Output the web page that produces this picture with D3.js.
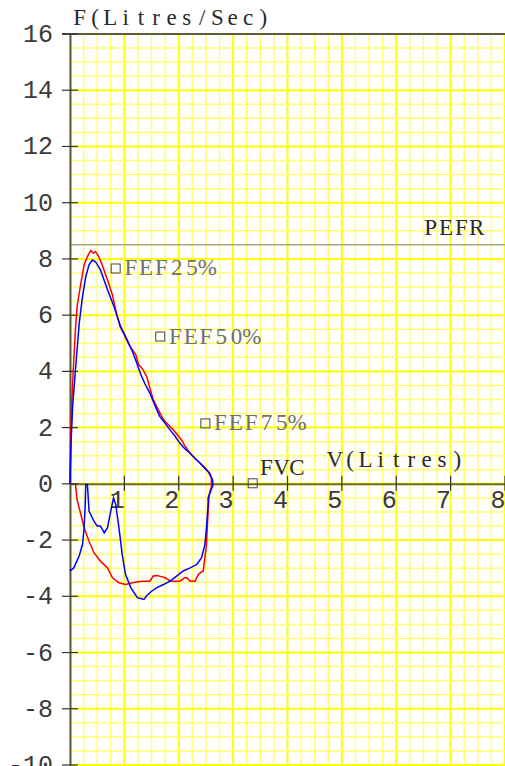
<!DOCTYPE html>
<html>
<head>
<meta charset="utf-8">
<script src="https://cdn.jsdelivr.net/npm/d3@7"></script>
<style>
  body { margin: 0; background: #ffffff; }
  .mono { font-family: "Liberation Mono", "Courier New", monospace; }
  .serif { font-family: "Liberation Serif", "Times New Roman", serif; }
</style>
</head>
<body>
<div id="chart"></div>
<script>
// Set global variables (SVG dimensions, chart margins)
var svgWidth = 505;
var svgHeight = 766;

var margin = {
  top: 34,
  right: 0,
  bottom: 1,
  left: 70
};

var chartWidth = svgWidth - margin.left - margin.right;
var chartHeight = svgHeight - margin.top - margin.bottom;

// width of one character cell for the spaced-out labels
var cell = 15.3;

// Axis ticks
var xTicks = [1, 2, 3, 4, 5, 6, 7, 8];
var yTicks = [-10, -8, -6, -4, -2, 0, 2, 4, 6, 8, 10, 12, 14, 16];
var pefr = 8.5;

// Red loop: expiration then inspiration back (volume in litres, flow in L/s)
var redVolume = [0, 0.01, 0.03, 0.06, 0.1, 0.13, 0.2, 0.26, 0.32, 0.38, 0.43, 0.47, 0.53, 0.59, 0.69, 0.78,
  0.85, 0.92, 1.0, 1.1, 1.21, 1.26, 1.33, 1.41, 1.47, 1.53, 1.62, 1.72, 1.81, 1.9, 2.05, 2.13, 2.21, 2.3,
  2.39, 2.47, 2.54, 2.6, 2.6, 2.56,
  2.54, 2.51, 2.45, 2.4, 2.36, 2.3, 2.21, 2.15, 2.11, 2.02, 1.93, 1.84, 1.8, 1.75, 1.68, 1.6, 1.53, 1.47,
  1.36, 1.25, 1.15, 1.02, 0.9, 0.78, 0.69, 0.56, 0.44, 0.35, 0.26, 0.2, 0.13, 0.1];
var redFlow = [0, 1.5, 2.8, 4.05, 5.5, 6.3, 7.14, 7.79, 8.08, 8.3, 8.2, 8.26, 8.08, 7.79, 7.25, 6.72,
  6.1, 5.6, 5.3, 4.9, 4.6, 4.25, 4.1, 3.82, 3.4, 3.0, 2.65, 2.28, 2.1, 1.92, 1.56, 1.3, 1.09, 0.9,
  0.74, 0.6, 0.44, 0.2, -0.1, -0.39,
  -0.97, -2.16, -3.1, -3.16, -3.22, -3.46, -3.46, -3.34, -3.34, -3.46, -3.46, -3.46, -3.4, -3.34, -3.3,
  -3.26, -3.28, -3.46, -3.46, -3.48, -3.52, -3.58, -3.52, -3.34, -2.99, -2.75, -2.45, -2.04, -1.56, -1.09,
  -0.56, 0];

// Blue loop
var blueVolume = [0, 0.02, 0.05, 0.1, 0.17, 0.23, 0.29, 0.35, 0.41, 0.47, 0.56, 0.69, 0.81, 0.93, 1.05,
  1.15, 1.23, 1.3, 1.38, 1.47, 1.56, 1.65, 1.75, 1.84, 1.93, 2.02, 2.11, 2.21, 2.3, 2.39, 2.48, 2.57,
  2.62, 2.63, 2.54,
  2.54, 2.51, 2.48, 2.42, 2.33, 2.21, 2.08, 1.96, 1.84, 1.72, 1.59, 1.5, 1.41, 1.36, 1.3, 1.24, 1.12,
  1.02, 0.96, 0.9, 0.84, 0.8, 0.75, 0.69, 0.63, 0.56, 0.5, 0.44, 0.35, 0.32, 0.29, 0.28, 0.26, 0.23,
  0.17, 0.07, 0.01, 0];
var blueFlow = [0, 1.5, 2.8, 4.05, 5.72, 6.66, 7.37, 7.79, 7.96, 7.9, 7.61, 6.9, 6.3, 5.6, 5.12,
  4.7, 4.29, 3.9, 3.55, 3.22, 2.8, 2.4, 2.15, 1.92, 1.7, 1.45, 1.25, 1.09, 0.9, 0.74, 0.55, 0.38,
  0.14, -0.04, -0.5,
  -0.73, -1.56, -2.16, -2.63, -2.87, -2.99, -3.1, -3.28, -3.46, -3.58, -3.7, -3.82, -3.98, -4.11, -4.08,
  -4.05, -3.7, -3.22, -2.51, -1.56, -0.73, -0.5, -0.97, -1.56, -1.74, -1.5, -1.5, -1.33, -0.97, -0.02,
  -0.02, -0.73, -1.56, -2.16, -2.56, -2.99, -3.08, -3.05];

// Marked points
var markerNames = ["FEF25%", "FEF50%", "FEF75%", "FVC"];
var markerVolume = [0.84, 1.66, 2.49, 3.36];
var markerFlow = [7.66, 5.24, 2.15, 0.02];

var svg = d3.select("#chart")
  .append("svg")
  .attr("width", svgWidth)
  .attr("height", svgHeight);

var chartGroup = svg.append("g")
  .attr("transform", `translate(${margin.left}, ${margin.top})`);

var xScale = d3.scaleLinear().domain([0, 8]).range([0, chartWidth]);
var yScale = d3.scaleLinear().domain([-10, 16]).range([chartHeight, 0]);

// place every character in its own cell, like a typewriter font
function spacedText(grp, str, x0, y, color) {
  return grp.append("text")
    .attr("class", "serif")
    .attr("x", str.split("").map((c, i) => (x0 + cell * (i + 0.5)).toFixed(1)).join(" "))
    .attr("y", y)
    .attr("text-anchor", "middle")
    .attr("font-size", 23)
    .attr("fill", color)
    .text(str);
}

// grid: minor lines first, then the major ones
var gridGroup = chartGroup.append("g");
gridGroup.selectAll(".vgrid")
  .data(d3.range(0, 33).map(i => i * 0.25))
  .enter()
  .append("line")
  .attr("x1", d => xScale(d))
  .attr("x2", d => xScale(d))
  .attr("y1", 0)
  .attr("y2", chartHeight)
  .attr("stroke", d => (d % 1 === 0) ? "#ffff00" : "#ffff70")
  .attr("stroke-width", d => (d % 1 === 0) ? 2 : 1.5);

gridGroup.selectAll(".hgrid")
  .data(d3.range(0, 53).map(i => -10 + i * 0.5))
  .enter()
  .append("line")
  .attr("x1", 0)
  .attr("x2", chartWidth)
  .attr("y1", d => yScale(d))
  .attr("y2", d => yScale(d))
  .attr("stroke", d => (d % 2 === 0) ? "#ffff00" : "#ffff70")
  .attr("stroke-width", d => (d % 2 === 0) ? 2 : 1.5);

// PEFR line
chartGroup.append("line")
  .attr("x1", 0)
  .attr("x2", chartWidth)
  .attr("y1", yScale(pefr))
  .attr("y2", yScale(pefr))
  .attr("stroke", "#a8a890")
  .attr("stroke-width", 1.5);

// axes
var xAxis = d3.axisBottom(xScale).tickValues(xTicks).tickSize(0).tickFormat("");
var yAxis = d3.axisLeft(yScale).tickValues(yTicks).tickSize(0).tickFormat("");

chartGroup.append("g")
  .attr("transform", `translate(0, ${yScale(0)})`)
  .call(xAxis)
  .call(g => g.select(".domain").attr("stroke", "#6e6e10").attr("stroke-width", 2));

chartGroup.append("g")
  .call(yAxis)
  .call(g => g.select(".domain").attr("stroke", "#5c5c38").attr("stroke-width", 2));

// top border
chartGroup.append("line")
  .attr("x1", -8)
  .attr("x2", chartWidth)
  .attr("y1", 0)
  .attr("y2", 0)
  .attr("stroke", "#5c5c38")
  .attr("stroke-width", 2);

// tick marks crossing the axes
chartGroup.append("g").selectAll("line")
  .data(xTicks)
  .enter()
  .append("line")
  .attr("x1", d => xScale(d))
  .attr("x2", d => xScale(d))
  .attr("y1", yScale(0) - 8)
  .attr("y2", yScale(0) + 7)
  .attr("stroke", "#333")
  .attr("stroke-width", 1.2);

chartGroup.append("g").selectAll("line")
  .data(yTicks)
  .enter()
  .append("line")
  .attr("x1", -8)
  .attr("x2", 8)
  .attr("y1", d => yScale(d))
  .attr("y2", d => yScale(d))
  .attr("stroke", "#333")
  .attr("stroke-width", 1.2);

// tick labels
chartGroup.append("g").selectAll("text")
  .data(xTicks)
  .enter()
  .append("text")
  .attr("class", "mono")
  .attr("x", d => xScale(d) - 7)
  .attr("y", yScale(0) + 24)
  .attr("text-anchor", "middle")
  .attr("font-size", 25)
  .attr("fill", "#3a3a3a")
  .text(d => d);

chartGroup.append("g").selectAll("text")
  .data(yTicks)
  .enter()
  .append("text")
  .attr("class", "mono")
  .attr("x", -17)
  .attr("y", d => yScale(d) + 8)
  .attr("text-anchor", "end")
  .attr("font-size", 25)
  .attr("fill", "#3a3a3a")
  .text(d => d);

// loops
var line = d3.line()
  .x(d => xScale(d[0]))
  .y(d => yScale(d[1]));

chartGroup.append("path")
  .datum(redVolume.map((v, i) => [v, redFlow[i]]))
  .attr("d", line)
  .attr("fill", "none")
  .attr("stroke", "#ff0000")
  .attr("stroke-width", 1.5);

chartGroup.append("path")
  .datum(blueVolume.map((v, i) => [v, blueFlow[i]]))
  .attr("d", line)
  .attr("fill", "none")
  .attr("stroke", "#0000ff")
  .attr("stroke-width", 1.5);

// markers and their labels
var markers = markerNames.map((n, i) => ({name: n, v: markerVolume[i], f: markerFlow[i]}));

chartGroup.append("g").selectAll("rect")
  .data(markers)
  .enter()
  .append("rect")
  .attr("x", d => xScale(d.v) - 4.5)
  .attr("y", d => yScale(d.f) - 4.5)
  .attr("width", 9)
  .attr("height", 9)
  .attr("fill", "none")
  .attr("stroke", "#444")
  .attr("stroke-width", 1);

var labelGroup = chartGroup.append("g");
markers.forEach(function(d) {
  if (d.name === "FVC") {
    spacedText(labelGroup, d.name, xScale(d.v) + 6, yScale(d.f) - 8, "#2a2a2a");
  } else {
    spacedText(labelGroup, d.name, xScale(d.v) + 7.5, yScale(d.f) + 7, "#707070");
  }
});

// axis titles
spacedText(chartGroup, "F(Litres/Sec)", 2, -9, "#2a2a2a");
spacedText(chartGroup, "V(Litres)", xScale(4.75) - 1, yScale(0) - 17, "#2a2a2a");
spacedText(chartGroup, "PEFR", xScale(6.53) - 2, yScale(pefr) - 10, "#2a2a2a");
</script>
</body>
</html>
